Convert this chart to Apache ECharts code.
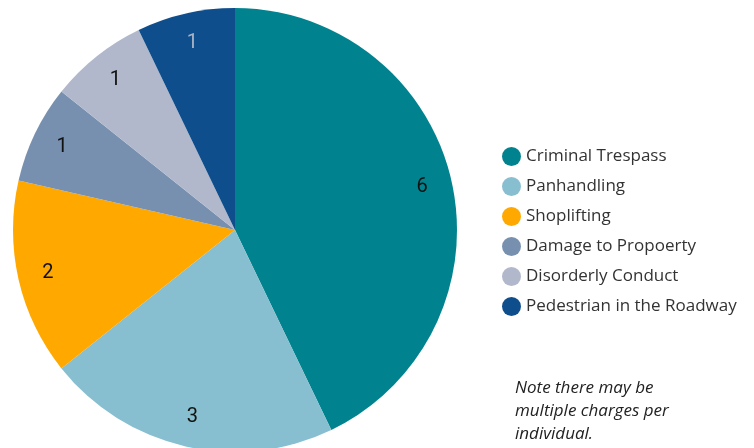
<!DOCTYPE html>
<html>
<head>
<meta charset="utf-8">
<script src="https://cdn.jsdelivr.net/npm/echarts@6/dist/echarts.min.js"></script>
<style>
  html, body { margin: 0; padding: 0; background: #fff; }
  #chart { width: 754px; height: 448px; }
</style>
</head>
<body>
<div id="chart"></div>
<script>
// Charges by type
const categories = ['Criminal Trespass', 'Panhandling', 'Shoplifting', 'Damage to Propoerty', 'Disorderly Conduct', 'Pedestrian in the Roadway'];
const counts = [6, 3, 2, 1, 1, 1];
const colors = ['#00838F', '#88BFD0', '#FFA800', '#7890B0', '#B1B8CC', '#0E4E8C'];
const labelColors = ['#111', '#111', '#111', '#111', '#111', '#A9B3C6'];
const note = 'Note there may be\nmultiple charges per\nindividual.';

const center = [235, 230];
const outerR = 222;

const chart = echarts.init(document.getElementById('chart'));

const pieData = categories.map((name, i) => ({
  name,
  value: counts[i],
  itemStyle: { color: colors[i] }
}));

// Transparent outer ring carries the value labels so they sit near the rim
const labelData = categories.map((name, i) => ({
  name,
  value: counts[i],
  itemStyle: { color: 'rgba(0,0,0,0)' },
  label: { color: labelColors[i] }
}));

chart.setOption({
  animation: false,
  legend: {
    orient: 'vertical',
    left: 497,
    top: 142,
    icon: 'circle',
    itemWidth: 19,
    itemHeight: 19,
    itemGap: 11,
    data: categories,
    textStyle: { fontFamily: 'Open Sans', fontSize: 17, color: '#333' }
  },
  graphic: [{
    type: 'text',
    left: 515,
    top: 377,
    style: {
      text: note,
      fontFamily: 'Open Sans',
      fontStyle: 'italic',
      fontSize: 17,
      lineHeight: 23,
      fill: '#222'
    }
  }],
  series: [
    {
      type: 'pie',
      center,
      radius: [0, outerR],
      startAngle: 90,
      clockwise: true,
      label: { show: false },
      labelLine: { show: false },
      emphasis: { disabled: true },
      data: pieData
    },
    {
      type: 'pie',
      center,
      radius: [156, outerR],
      startAngle: 90,
      clockwise: true,
      silent: true,
      legendHoverLink: false,
      label: {
        show: true,
        position: 'inside',
        formatter: '{c}',
        fontFamily: 'Roboto',
        fontSize: 20
      },
      labelLine: { show: false },
      emphasis: { disabled: true },
      data: labelData
    }
  ]
});
</script>
</body>
</html>
